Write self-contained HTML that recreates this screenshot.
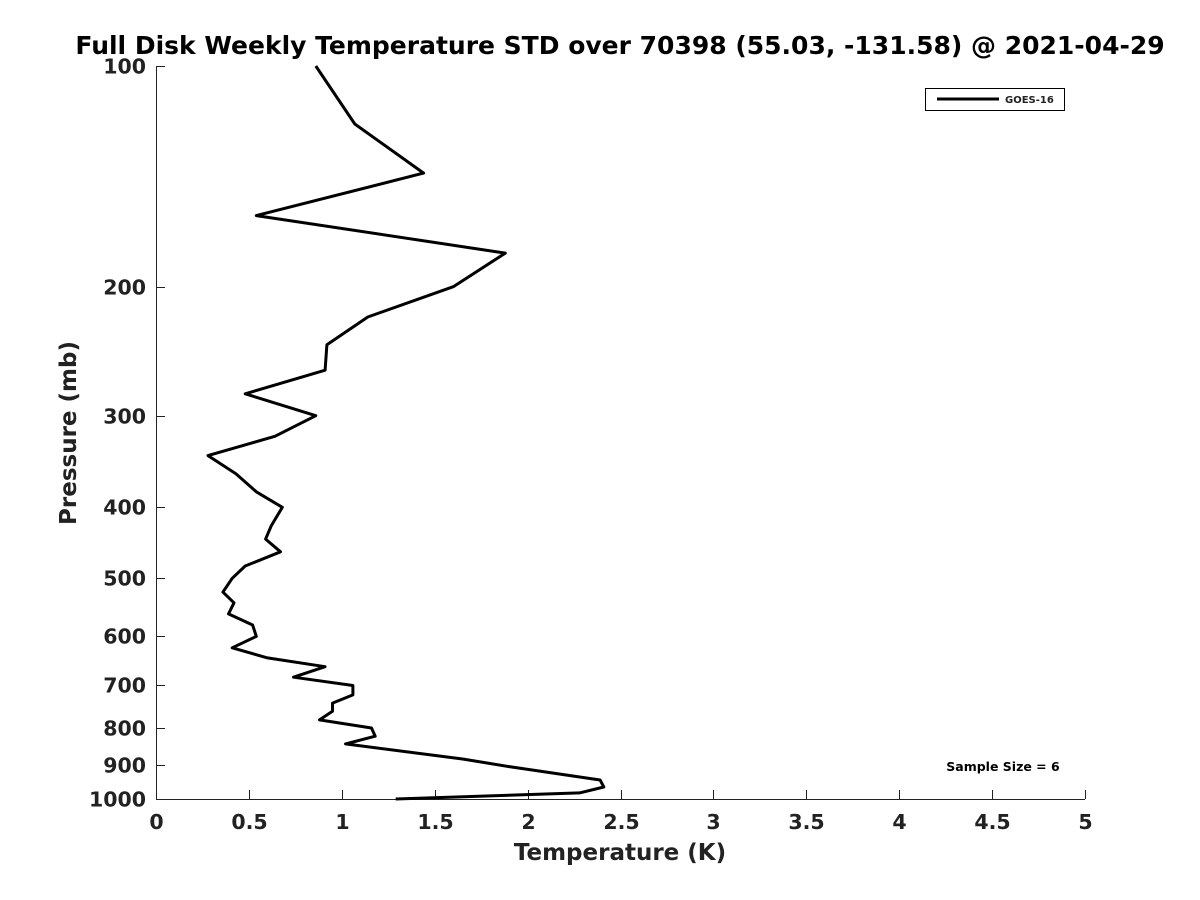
<!DOCTYPE html>
<html><head><meta charset="utf-8"><style>
body{margin:0;background:#fff;}
svg{display:block;font-family:"DejaVu Sans","Liberation Sans",sans-serif;font-weight:bold;}
</style></head><body>
<svg id="chart" width="1200" height="900">
<rect width="1200" height="900" fill="#fff"/>
<text x="620" y="54" text-anchor="middle" font-size="25" fill="#000">Full Disk Weekly Temperature STD over 70398 (55.03, -131.58) @ 2021-04-29</text>
<g id="axes"></g>
<path id="line" fill="none" stroke="#000" stroke-width="3" stroke-linejoin="round"/>
<g>
<rect x="925.5" y="88.5" width="139" height="22" fill="#fff" stroke="#000" stroke-width="1"/>
<line x1="937" y1="99" x2="999" y2="99" stroke="#000" stroke-width="3"/>
<text x="1005" y="103" font-size="10" fill="#222">GOES-16</text>
</g>
<text x="1003" y="771" text-anchor="middle" font-size="12.5" fill="#000">Sample Size = 6</text>
<text x="620" y="860" text-anchor="middle" font-size="23" fill="#222">Temperature (K)</text>
<text transform="translate(76,433) rotate(-90)" text-anchor="middle" font-size="23" fill="#222">Pressure (mb)</text>
</svg>
<script>
const temps=[0.86,1.07,1.44,0.54,1.88,1.60,1.14,0.92,0.91,0.48,0.86,0.64,0.28,0.43,0.54,0.68,0.62,0.59,0.67,0.48,0.41,0.36,0.42,0.39,0.52,0.54,0.41,0.60,0.91,0.74,1.06,1.06,0.95,0.95,0.88,1.16,1.18,1.02,1.65,1.91,2.39,2.41,2.28,1.29];
const pressures=[100,120,140,160,180,200,220,240,260,280,300,320,340,360,381,400,424,442,460,481,500,522,540,559,579,600,622,642,660,682,700,721,740,759,780,800,821,841,882,904,942,963,981,1000];
const xTicks=[0,0.5,1,1.5,2,2.5,3,3.5,4,4.5,5];
const xTickLabels=["0","0.5","1","1.5","2","2.5","3","3.5","4","4.5","5"];
const yTicks=[100,200,300,400,500,600,700,800,900,1000];

const L=156,R=1085,T=66,B=799;
const xS=v=>L+(v-0)/(5-0)*(R-L);
const yS=p=>T+(Math.log10(p)-2)/(3-2)*(B-T);
const NS="http://www.w3.org/2000/svg";
const ax=document.getElementById('axes');
function mk(tag,attrs){const e=document.createElementNS(NS,tag);for(const k in attrs)e.setAttribute(k,attrs[k]);return e;}

let l=mk('line',{x1:L,y1:B+0.5,x2:R,y2:B+0.5,stroke:'#222','stroke-width':1});


ax.appendChild(l);
l=mk('line',{x1:L+0.5,y1:T,x2:L+0.5,y2:B,stroke:'#222','stroke-width':1});


ax.appendChild(l);

xTicks.forEach((v,i)=>{
  const x=Math.round(xS(v))+0.5;
  const t=mk('line',{x1:x,y1:B,x2:x,y2:B-9,stroke:'#222','stroke-width':1});
  
  
  ax.appendChild(t);
  const tx=mk('text',{x:x,y:B+30,'text-anchor':'middle','font-size':20.5,fill:'#222'});
  tx.textContent=xTickLabels[i];
  
  
  ax.appendChild(tx);
});
yTicks.forEach(p=>{
  const y=Math.round(yS(p))+0.5;
  const t=mk('line',{x1:L,y1:y,x2:L+9,y2:y,stroke:'#222','stroke-width':1});
  
  
  ax.appendChild(t);
  const tx=mk('text',{x:L-10,y:y+7,'text-anchor':'end','font-size':20.5,fill:'#222'});
  tx.textContent=String(p);
  
  
  ax.appendChild(tx);
});
document.getElementById('line').setAttribute('d',temps.map((v,i)=>(i?'L':'M')+xS(v).toFixed(1)+','+yS(pressures[i]).toFixed(1)).join(''));
</script>
</body></html>
